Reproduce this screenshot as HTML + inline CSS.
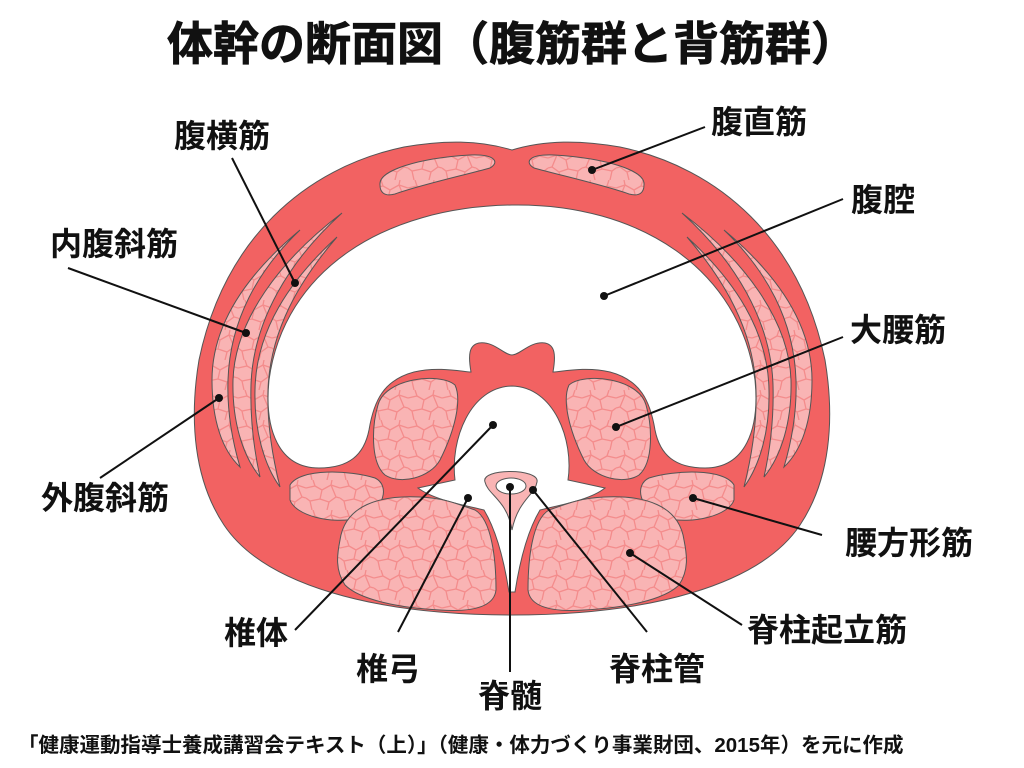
<!DOCTYPE html>
<html><head><meta charset="utf-8"><style>
html,body{margin:0;padding:0;background:#fff;}
body{width:1024px;height:768px;overflow:hidden;}
svg{display:block;}
text{font-family:"Liberation Sans","Noto Sans CJK JP",sans-serif;font-weight:bold;fill:#111;}
</style></head><body>
<svg width="1024" height="768" viewBox="0 0 1024 768" xmlns="http://www.w3.org/2000/svg">
<defs>
<pattern id="tex" width="34" height="30" patternUnits="userSpaceOnUse">
<rect width="34" height="30" fill="#f9b4b4"/>
<path d="M0,8 L9,6 L16,10 L25,5 L34,8 M9,6 L7,0 M25,5 L26,0 M16,10 L14,19 L4,21 L0,18 M14,19 L23,22 L30,17 L34,18 M25,5 L30,17 M4,21 L6,30 M23,22 L21,30" stroke="#f48c8c" stroke-width="1.3" fill="none"/>
</pattern>
</defs>
<text x="512" y="60" font-size="46" text-anchor="middle" stroke="#111" stroke-width="0.8">体幹の断面図（腹筋群と背筋群）</text>

<!-- body -->
<path d="M512,150 C545,140 580,140 620,147 C720,168 800,240 825,360 C835,420 830,480 800,525 C760,585 650,615 512,615 C374,615 264,585 224,525 C194,480 189,420 199,360 C224,240 304,168 404,147 C444,140 479,140 512,150Z" fill="#f26262" stroke="#555" stroke-width="1"/>

<!-- cavity -->
<path d="M512,205 C640,203 740,270 755,380 C760,430 745,468 705,468 C675,468 660,455 655,430 C650,400 640,380 610,372 C585,366 560,372 553,372 C556,355 555,345 545,343 C530,341 520,355 512,355 C504,355 494,341 479,343 C469,345 468,355 471,372 C464,372 439,366 414,372 C384,380 374,400 369,430 C364,455 349,468 319,468 C279,468 264,430 269,380 C284,270 384,207 512,205Z" fill="#fff" stroke="#555" stroke-width="1"/>

<!-- vertebral hole -->
<path d="M418,488 L455,480 C450,440 470,387 512,386 C554,387 574,440 568,480 L605,488 C590,500 560,505 540,510 C528,530 520,560 515,592 L509,592 C504,560 496,530 484,510 C464,505 434,500 418,488Z" fill="#fff" stroke="#555" stroke-width="1"/>

<g id="half" fill="url(#tex)" stroke="#555" stroke-width="1">
<path d="M300,230 C240,280 212,330 212,380 C212,420 222,450 240,467 C232,440 227,410 228,380 C230,320 258,270 300,230Z"/>
<path d="M342,213 C280,260 235,320 233,380 C232,420 242,455 260,477 C254,450 250,420 251,385 C253,320 290,260 342,213Z"/>
<path d="M337,237 C290,280 256,330 255,390 C254,430 264,465 280,487 C272,455 267,420 268,390 C270,330 300,280 337,237Z"/>
<path d="M380,185 C378,170 420,158 470,155 C495,154 500,162 490,168 C465,175 420,185 395,194 C384,197 380,192 380,185Z"/>
<path d="M378,405 C385,378 440,372 455,385 C462,400 455,430 440,460 C430,478 400,485 385,475 C370,462 372,425 378,405Z"/>
<path d="M290,485 C300,468 350,470 375,478 C390,485 385,510 360,518 C330,525 295,515 290,500Z"/>
<path d="M340,540 C345,505 380,495 420,497 C445,498 460,505 475,510 C492,520 496,560 496,590 C494,608 470,612 440,610 C400,608 360,600 345,585 C335,570 337,555 340,540Z"/>
</g>
<use href="#half" transform="translate(1024,0) scale(-1,1)"/>

<path d="M485,482 C480,468 540,468 537,482 C535,495 518,500 512,530 C507,500 488,495 485,482Z" fill="#f9b4b4" stroke="#555" stroke-width="1"/>
<ellipse cx="511" cy="486" rx="15" ry="8" fill="#fff" stroke="#555" stroke-width="1"/>

<g stroke="#111" stroke-width="2" fill="none">
<line x1="232" y1="158" x2="295" y2="283"/>
<line x1="705" y1="127" x2="592" y2="170"/>
<line x1="843" y1="199" x2="604" y2="296"/>
<line x1="68" y1="268" x2="246" y2="333"/>
<line x1="843" y1="337" x2="616" y2="427"/>
<line x1="100" y1="478" x2="219" y2="398"/>
<line x1="822" y1="535" x2="693" y2="498"/>
<line x1="742" y1="625" x2="630" y2="553"/>
<line x1="295" y1="630" x2="493" y2="425"/>
<line x1="398" y1="632" x2="468" y2="498"/>
<line x1="510" y1="672" x2="510" y2="487"/>
<line x1="647" y1="632" x2="533" y2="490"/>
</g>
<g fill="#111">
<circle cx="295" cy="283" r="4"/><circle cx="592" cy="170" r="4"/><circle cx="604" cy="296" r="4"/>
<circle cx="246" cy="333" r="4"/><circle cx="616" cy="427" r="4"/><circle cx="219" cy="398" r="4"/>
<circle cx="693" cy="498" r="4"/><circle cx="630" cy="553" r="4"/><circle cx="493" cy="425" r="4"/>
<circle cx="468" cy="498" r="4"/><circle cx="510" cy="487" r="4"/><circle cx="533" cy="490" r="4"/>
</g>

<g font-size="32">
<text x="174" y="147">腹横筋</text>
<text x="711" y="133">腹直筋</text>
<text x="851" y="211">腹腔</text>
<text x="50" y="255">内腹斜筋</text>
<text x="850" y="341">大腰筋</text>
<text x="41" y="509">外腹斜筋</text>
<text x="845" y="554">腰方形筋</text>
<text x="747" y="641">脊柱起立筋</text>
<text x="224" y="644">椎体</text>
<text x="356" y="680">椎弓</text>
<text x="478" y="707">脊髄</text>
<text x="609" y="680">脊柱管</text>
</g>
<text x="18" y="752" font-size="20.5">「健康運動指導士養成講習会テキスト（上）」（健康・体力づくり事業財団、2015年）を元に作成</text>
</svg>
</body></html>
